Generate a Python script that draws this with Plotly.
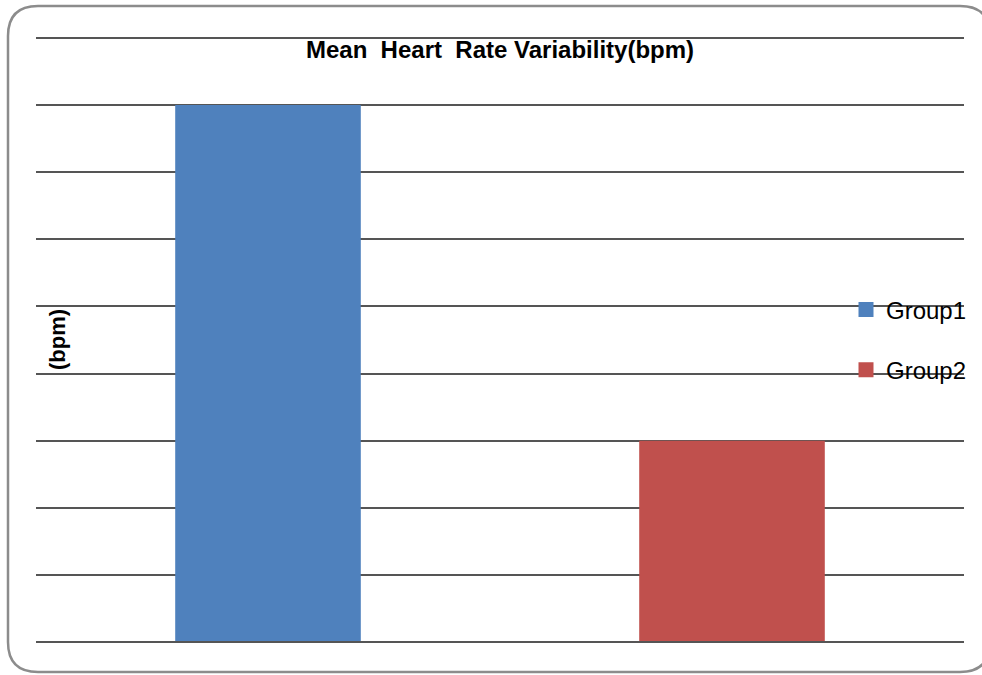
import plotly.graph_objects as go

categories = ["Group1", "Group2"]
values = [8, 3]
colors = ["#4F81BD", "#C0504D"]
y_title = "(bpm)"
chart_title = "Mean\u00a0 Heart\u00a0 Rate Variability(bpm)"
y_max = 9

W, H = 982, 675
L, R, T, B = 36, 18, 38, 33
pw, ph = W - L - R, H - T - B

fig = go.Figure()
for i, (c, v) in enumerate(zip(categories, values)):
    fig.add_trace(go.Bar(
        x=[i], y=[v], name=c, marker=dict(color=colors[i], line=dict(width=0)),
        width=0.4, showlegend=False,
    ))
    fig.add_trace(go.Scatter(
        x=[None], y=[None], name=c, mode="markers",
        marker=dict(color=colors[i], symbol="square", size=15),
        legendgroup=c, showlegend=True,
    ))

def px(x):
    return (x - L) / pw

def py(y):
    return (H - B - y) / ph

x0, x1, y0, y1 = 8, 990, 6, 672
r = 30
path = (f"M {px(x0 + r)} {py(y0)} L {px(x1 - r)} {py(y0)} "
        f"Q {px(x1)} {py(y0)} {px(x1)} {py(y0 + r)} "
        f"L {px(x1)} {py(y1 - r)} Q {px(x1)} {py(y1)} {px(x1 - r)} {py(y1)} "
        f"L {px(x0 + r)} {py(y1)} Q {px(x0)} {py(y1)} {px(x0)} {py(y1 - r)} "
        f"L {px(x0)} {py(y0 + r)} Q {px(x0)} {py(y0)} {px(x0 + r)} {py(y0)} Z")

fig.update_layout(
    width=W, height=H,
    margin=dict(l=L, r=R, t=T, b=B, autoexpand=False),
    paper_bgcolor="white", plot_bgcolor="white",
    font=dict(family="Liberation Sans, Arial", color="black"),
    title=dict(
        text=f"<b>{chart_title}</b>",
        x=px(500), xanchor="center", xref="paper",
        y=1 - 50 / H, yanchor="middle", yref="container",
        font=dict(size=24),
    ),
    xaxis=dict(range=[-0.5, 1.5], showticklabels=False, showgrid=False,
               zeroline=False, showline=False, ticks=""),
    yaxis=dict(range=[0, y_max], dtick=1, showticklabels=False, showgrid=True,
               gridcolor="#555555", gridwidth=2, zeroline=False,
               showline=False, ticks=""),
    annotations=[dict(text=f"<b>{y_title}</b>", x=px(57), y=py(340),
                      xref="paper", yref="paper", textangle=-90,
                      showarrow=False, font=dict(size=22),
                      xanchor="center", yanchor="middle")],
    showlegend=True,
    legend=dict(x=px(846), xanchor="left", y=py(340), yanchor="middle",
                bgcolor="rgba(0,0,0,0)", font=dict(size=24),
                tracegroupgap=26, itemwidth=30),
    shapes=[dict(type="path", xref="paper", yref="paper", path=path,
                 line=dict(color="#8c8c8c", width=2.5), layer="above"),
            dict(type="line", xref="paper", yref="paper", x0=0, x1=1, y0=0, y1=0,
                 line=dict(color="#555555", width=2), layer="above"),
            dict(type="line", xref="paper", yref="paper", x0=0, x1=1, y0=1, y1=1,
                 line=dict(color="#555555", width=2), layer="below")],
)

fig.write_html("out.html")
